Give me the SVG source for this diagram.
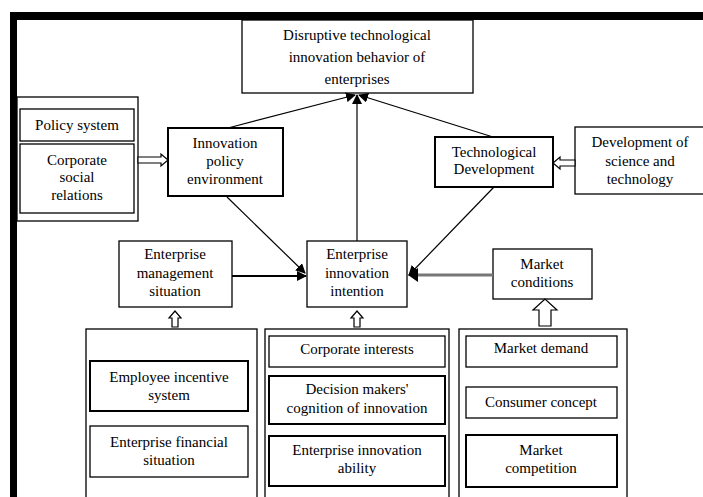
<svg xmlns="http://www.w3.org/2000/svg" width="703" height="497" viewBox="0 0 703 497">
<style>
text{font-size:15px;fill:#000;text-anchor:middle}
.b{fill:#fff;stroke:#000;stroke-width:1.3}
.t{fill:#fff;stroke:#000;stroke-width:2}
.c{stroke:#000;stroke-width:1.2;fill:none}
.h{fill:#fff;stroke:#000;stroke-width:1.2}
</style>
<defs>
<marker id="ahb" viewBox="0 0 10 10" refX="9" refY="5" markerWidth="10" markerHeight="10" orient="auto" markerUnits="userSpaceOnUse"><path d="M0,0 L10,5 L0,10 Z" fill="#000"/></marker>
</defs>
<rect width="703" height="497" fill="#fff"/>
<g id="frame">
<rect x="10" y="12" width="693" height="8" fill="#000"/>
<rect x="10" y="12" width="7" height="485" fill="#000"/>
</g>
<g font-family="Liberation Serif, DejaVu Serif, Times New Roman, serif">
<g id="top"><rect class="b" x="242" y="20" width="231" height="73"/>
<text x="357" y="40">Disruptive technological</text><text x="357" y="62">innovation behavior of</text><text x="357" y="84">enterprises</text></g>
<g id="policy-group"><rect class="b" x="17" y="97" width="121" height="124"/>
<g id="policy-system"><rect class="b" x="20" y="109" width="114" height="32"/><text x="77" y="130">Policy system</text></g>
<g id="social-relations"><rect class="b" x="20" y="144" width="114" height="69"/><text x="77" y="165">Corporate</text><text x="77" y="182">social</text><text x="77" y="200">relations</text></g></g>
<g id="policy-env"><rect class="t" x="168" y="128" width="115" height="68"/><text x="225" y="148">Innovation</text><text x="225" y="166">policy</text><text x="225" y="184">environment</text></g>
<g id="tech-dev"><rect class="t" x="435" y="137" width="118" height="50"/><text x="494" y="157">Technological</text><text x="494" y="174">Development</text></g>
<g id="sci-tech"><rect class="b" x="575" y="127" width="130" height="67"/><text x="640" y="147">Development of</text><text x="640" y="166">science and</text><text x="640" y="184">technology</text></g>
<g id="management"><rect class="b" x="119" y="241" width="113" height="66"/><text x="175" y="259">Enterprise</text><text x="175" y="278">management</text><text x="175" y="296">situation</text></g>
<g id="intention"><rect class="b" x="307" y="241" width="100" height="66"/><text x="357" y="259">Enterprise</text><text x="357" y="278">innovation</text><text x="357" y="296">intention</text></g>
<g id="market-cond"><rect class="b" x="493" y="249" width="99" height="50"/><text x="542" y="269">Market</text><text x="542" y="287">conditions</text></g>
<g id="mgmt-group"><rect class="b" x="86" y="329" width="171" height="175"/>
<g id="employee"><rect class="t" x="90" y="361" width="158" height="50"/><text x="169" y="382">Employee incentive</text><text x="169" y="400">system</text></g>
<g id="financial"><rect class="b" x="90" y="426" width="158" height="51"/><text x="169" y="447">Enterprise financial</text><text x="169" y="465">situation</text></g></g>
<g id="intent-group"><rect class="b" x="265" y="329" width="184" height="175"/>
<g id="interests"><rect class="b" x="269" y="336" width="176" height="31"/><text x="357" y="354">Corporate interests</text></g>
<g id="cognition"><rect class="t" x="269" y="376" width="176" height="48"/><text x="357" y="394">Decision makers'</text><text x="357" y="413">cognition of innovation</text></g>
<g id="ability"><rect class="t" x="269" y="436" width="176" height="50"/><text x="357" y="455">Enterprise innovation</text><text x="357" y="473">ability</text></g></g>
<g id="market-group"><rect class="b" x="459" y="329" width="168" height="175"/>
<g id="demand"><rect class="b" x="466" y="336" width="151" height="31"/><text x="541" y="353">Market demand</text></g>
<g id="consumer"><rect class="b" x="466" y="387" width="151" height="31"/><text x="541" y="407">Consumer concept</text></g>
<g id="competition"><rect class="t" x="466" y="435" width="151" height="52"/><text x="541" y="455">Market</text><text x="541" y="473">competition</text></g></g>
</g>
<g id="connectors">
<line class="c" x1="228" y1="128" x2="355" y2="95" marker-end="url(#ahb)"/>
<line class="c" x1="357" y1="241" x2="357" y2="95" marker-end="url(#ahb)"/>
<line class="c" x1="493" y1="137" x2="359" y2="95" marker-end="url(#ahb)"/>
<line class="c" x1="227" y1="197" x2="305" y2="273" marker-end="url(#ahb)"/>
<line class="c" x1="494" y1="187" x2="409" y2="275" marker-end="url(#ahb)"/>
<line stroke="#000" stroke-width="2.2" x1="232" y1="276" x2="306" y2="276" marker-end="url(#ahb)"/>
<line stroke="#777" stroke-width="3" x1="493" y1="275" x2="416" y2="275"/>
<path d="M408,275 L418,268 L418,282 Z" fill="#000"/>
<path class="h" d="M138,157 L161,157 L161,154 L168,160 L161,166 L161,163 L138,163 Z"/>
<path class="h" d="M575,160 L560,160 L560,157 L553,163 L560,169 L560,166 L575,166 Z"/>
<path class="h" d="M172,327 L172,318 L169,318 L175,311 L181,318 L178,318 L178,327 Z"/>
<path class="h" d="M354,327 L354,318 L351,318 L357,311 L363,318 L360,318 L360,327 Z"/>
<path class="h" d="M539,326 L539,310 L533,310 L545,299 L557,310 L551,310 L551,326 Z" stroke-width="1.5"/>
</g>
</svg>
